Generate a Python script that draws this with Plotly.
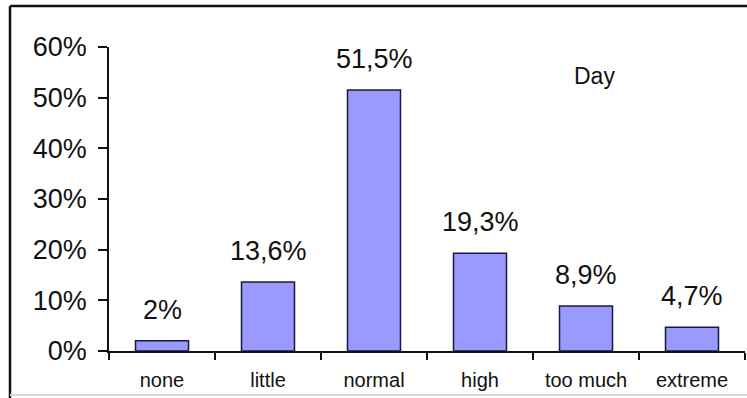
import plotly.graph_objects as go

categories = ["none", "little", "normal", "high", "too much", "extreme"]
values = [0.02, 0.136, 0.515, 0.193, 0.089, 0.047]
value_labels = ["2%", "13,6%", "51,5%", "19,3%", "8,9%", "4,7%"]
y_tickvals = [0, 0.1, 0.2, 0.3, 0.4, 0.5, 0.6]
y_ticktext = ["0%", "10%", "20%", "30%", "40%", "50%", "60%"]
series_name = "Day"

W, H = 747, 398
L, R, T, B = 109, 2, 47, 47
pw, ph = W - L - R, H - T - B

def px_x(p):
    return (p - L) / pw

def px_y(p):
    return (H - B - p) / ph

font = "Liberation Sans, Arial, sans-serif"

fig = go.Figure()
fig.add_trace(go.Bar(
    x=categories, y=values,
    marker=dict(color="#9999FF", line=dict(color="#1a1a40", width=1.5)),
    width=0.5,
    hoverinfo="skip",
))

for c, v, t in zip(categories, values, value_labels):
    fig.add_annotation(x=c, y=v, text=t, showarrow=False, yanchor="bottom",
                       yshift=14, font=dict(family=font, size=27, color="#111"))

fig.add_annotation(xref="paper", yref="paper", x=px_x(594), y=px_y(76),
                   text=series_name, showarrow=False, xanchor="center", yanchor="middle",
                   font=dict(family=font, size=23, color="#111"))

# outer frame lines
fig.add_shape(type="line", xref="paper", yref="paper", x0=px_x(10), x1=px_x(747),
              y0=px_y(6), y1=px_y(6), line=dict(color="#111", width=2.5))
fig.add_shape(type="line", xref="paper", yref="paper", x0=px_x(10), x1=px_x(10),
              y0=px_y(6), y1=px_y(398), line=dict(color="#111", width=2.5))
fig.add_shape(type="line", xref="paper", yref="paper", x0=px_x(10), x1=px_x(747),
              y0=px_y(395), y1=px_y(395), line=dict(color="#d8d8d8", width=2))

fig.update_layout(
    width=W, height=H,
    margin=dict(l=L, r=R, t=T, b=B),
    paper_bgcolor="white", plot_bgcolor="white",
    showlegend=False,
    xaxis=dict(
        showline=True, linecolor="#111", linewidth=1.5,
        ticks="outside", ticklen=7, tickcolor="#111", tickwidth=1.5,
        tickson="boundaries", showgrid=False, zeroline=False,
        tickfont=dict(family=font, size=20, color="#111"),
        ticklabelstandoff=10,
    ),
    yaxis=dict(
        range=[0, 0.6], tickvals=y_tickvals, ticktext=y_ticktext,
        showline=True, linecolor="#111", linewidth=1.5,
        ticks="outside", ticklen=9, tickcolor="#111", tickwidth=1.5,
        showgrid=False, zeroline=False,
        tickfont=dict(family=font, size=27, color="#111"),
        ticklabelstandoff=6,
    ),
)

fig.write_html("out.html")
